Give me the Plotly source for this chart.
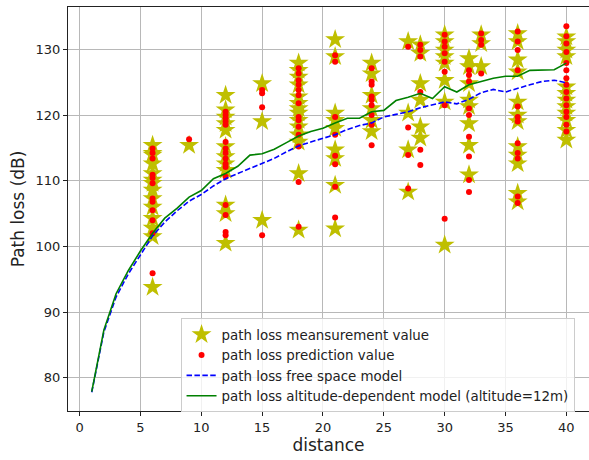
import plotly.graph_objects as go

# distances where measurements were taken
columns = [6, 9, 12, 15, 18, 21, 24, 27, 28, 30, 32, 33, 36, 40]

meas_values = [
    [115.4, 114.2, 113.9, 112.6, 111.1, 110.1, 109.6, 108.6, 107.3, 106.0, 104.3, 102.8, 101.5, 93.8],
    [115.4],
    [123.0, 120.8, 119.7, 118.7, 117.7, 115.2, 113.7, 112.6, 111.6, 106.3, 105.0, 100.5],
    [124.8, 119.0, 104.0],
    [127.9, 126.8, 125.8, 124.6, 122.8, 121.8, 121.0, 120.3, 119.2, 118.2, 117.0, 115.9, 111.1, 102.5],
    [131.5, 128.9, 120.3, 119.2, 118.0, 114.7, 113.4, 109.3, 102.7],
    [127.9, 126.3, 123.0, 121.0, 119.2, 117.5],
    [131.2, 120.3, 114.7, 108.3],
    [130.7, 129.4, 124.8, 122.3, 118.2, 116.5],
    [132.2, 131.2, 129.9, 128.9, 127.9, 125.3, 122.0, 100.2],
    [128.6, 127.4, 124.8, 122.3, 121.3, 118.7, 115.4, 110.9],
    [132.2, 130.9, 127.4],
    [132.4, 131.2, 128.4, 126.6, 122.0, 120.0, 119.0, 115.2, 113.9, 112.6, 108.1, 106.8],
    [131.9, 131.2, 129.9, 128.9, 124.3, 123.3, 122.3, 121.3, 120.3, 119.2, 117.7, 116.2],
]

pred_values = [
    [114.9, 114.2, 113.4, 110.9, 110.4, 109.6, 107.3, 106.8, 105.5, 104.0, 102.0, 95.9],
    [116.3],
    [120.5, 120.0, 119.5, 119.0, 118.5, 115.9, 114.9, 114.2, 113.4, 112.6, 112.1, 110.6, 106.3, 104.8, 102.2, 101.7],
    [123.8, 123.3, 121.2, 101.7],
    [127.1, 126.3, 125.3, 124.6, 123.8, 123.0, 121.8, 119.7, 119.2, 118.2, 117.0, 115.2, 109.8, 103.0],
    [129.1, 128.1, 119.7, 117.0, 113.8, 112.5, 109.1, 104.4],
    [127.1, 125.1, 124.6, 122.8, 122.3, 121.5, 120.0, 118.5, 115.4],
    [130.4, 118.1, 113.9, 108.8],
    [130.7, 129.9, 128.9, 123.5, 114.7, 112.4],
    [132.2, 131.2, 130.4, 129.4, 128.1, 126.6, 121.5, 104.2],
    [126.8, 126.1, 125.1, 121.0, 120.0, 116.7, 113.7, 110.1, 108.3],
    [132.4, 131.4, 130.7, 126.3],
    [132.7, 131.2, 129.9, 126.8, 121.3, 119.7, 119.0, 115.7, 114.2, 113.4, 107.6, 106.6],
    [133.5, 132.0, 130.9, 129.6, 127.9, 126.8, 125.6, 124.6, 123.5, 122.5, 121.5, 120.5, 119.7, 118.5, 117.5],
]

model_dist = list(range(1, 41))
free_space = [77.8, 87.0, 92.3, 95.8, 98.7, 101.6, 103.7, 105.4, 106.9, 107.9,
              109.2, 110.3, 111.1, 111.9, 112.7, 113.4, 114.4, 115.3, 115.9, 116.4,
              117.0, 117.8, 118.4, 118.8, 119.7, 120.1, 120.5, 121.1, 121.6, 122.0,
              121.7, 122.4, 123.4, 123.9, 123.5, 124.1, 124.6, 125.1, 125.3, 124.9]
altitude = [77.9, 87.3, 92.8, 96.3, 99.3, 102.0, 104.3, 105.8, 107.5, 108.5,
            110.3, 111.1, 112.2, 113.9, 114.1, 114.8, 115.8, 116.8, 117.5, 118.0,
            118.8, 119.5, 119.5, 120.5, 120.7, 122.2, 122.7, 123.3, 122.5, 124.3,
            123.5, 124.6, 125.1, 125.6, 125.9, 125.9, 126.8, 126.9, 126.9, 127.9]

meas_x, meas_y = [], []
for d, vals in zip(columns, meas_values):
    meas_x += [d] * len(vals)
    meas_y += vals
pred_x, pred_y = [], []
for d, vals in zip(columns, pred_values):
    pred_x += [d] * len(vals)
    pred_y += vals

FONT = "DejaVu Sans"
fig = go.Figure()
fig.add_trace(go.Scatter(x=meas_x, y=meas_y, mode="markers",
                         name="path loss meansurement value",
                         marker=dict(symbol="star", size=15, color="#bfbf00",
                                     line=dict(width=0))))
fig.add_trace(go.Scatter(x=pred_x, y=pred_y, mode="markers",
                         name="path loss prediction value",
                         marker=dict(symbol="circle", size=6, color="#ff0000",
                                     line=dict(width=0))))
fig.add_trace(go.Scatter(x=model_dist, y=free_space, mode="lines",
                         name="path loss free space model",
                         line=dict(color="#0000ff", width=1.6, dash="5.5px,2.4px")))
fig.add_trace(go.Scatter(x=model_dist, y=altitude, mode="lines",
                         name="path loss altitude-dependent model (altitude=12m)",
                         line=dict(color="#008000", width=1.6)))

axis_common = dict(showgrid=True, gridcolor="#b8b8b8", gridwidth=1,
                   showline=True, linecolor="#222222", linewidth=1,
                   ticks="outside", ticklen=4, tickcolor="#222222",
                   tickfont=dict(family=FONT, size=13, color="#222222"),
                   zeroline=False, automargin=False)

fig.update_layout(
    width=589, height=460,
    margin=dict(l=68, r=0, t=7, b=49),
    paper_bgcolor="white", plot_bgcolor="white",
    font=dict(family=FONT, color="#222222"),
    xaxis=dict(range=[-0.95, 41.86], tickmode="array",
               tickvals=[0, 5, 10, 15, 20, 25, 30, 35, 40], mirror=True,
               title=dict(text="distance", font=dict(family=FONT, size=17), standoff=3),
               **axis_common),
    yaxis=dict(range=[74.95, 136.44], tickmode="array",
               tickvals=[80, 90, 100, 110, 120, 130],
               title=dict(text="Path loss (dB)", font=dict(family=FONT, size=17), standoff=6),
               **axis_common),
    legend=dict(x=0.216, y=0.2295, xanchor="left", yanchor="top",
                bgcolor="rgba(255,255,255,0.8)", bordercolor="#cccccc", borderwidth=1,
                font=dict(family=FONT, size=13.4, color="#222222"),
                itemsizing="trace", tracegroupgap=0),
    showlegend=True,
)

fig.write_html("out.html",
               config={"displayModeBar": False},
               post_script="document.body.style.margin='0';document.body.style.overflow='hidden';")
